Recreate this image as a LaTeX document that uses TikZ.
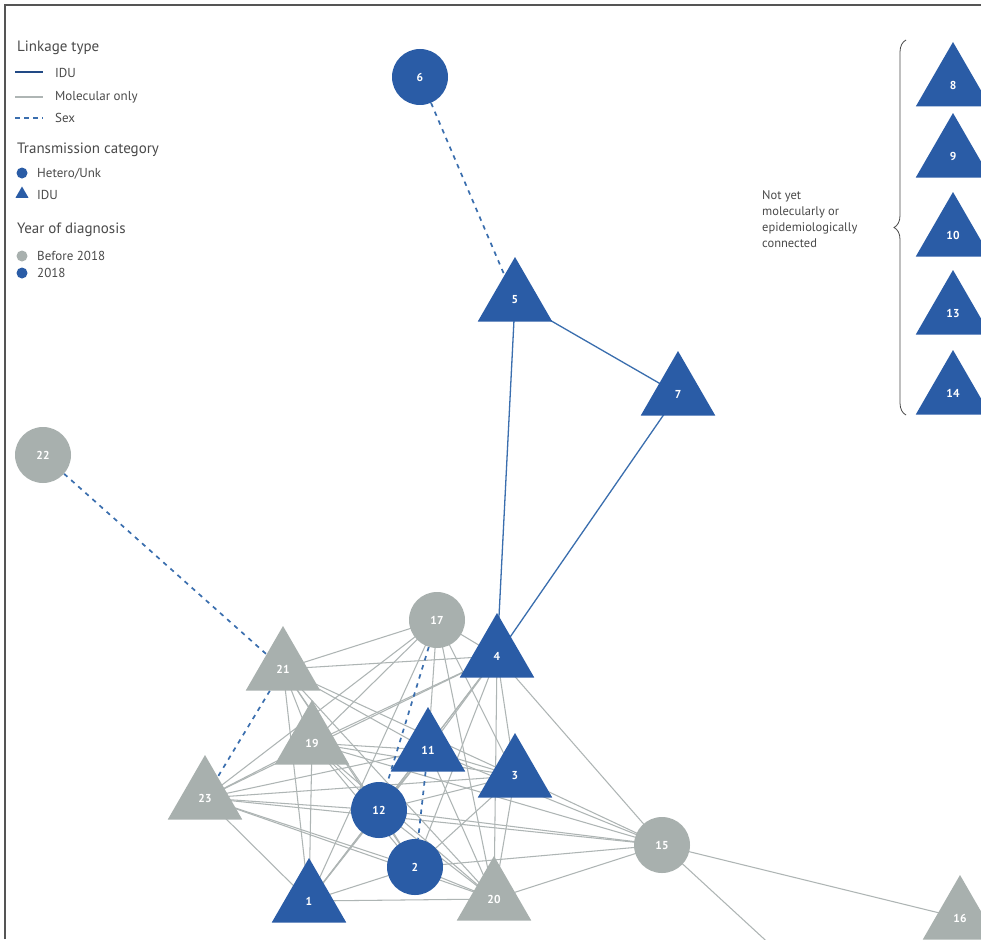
\documentclass[tikz,border=0pt]{standalone}
\usepackage{fontspec}
\setmainfont{PT Sans}
\usetikzlibrary{shapes.geometric,decorations.pathreplacing}
\definecolor{nblue}{HTML}{2A5CA6}
\definecolor{ngray}{HTML}{A8B0AE}
\definecolor{egray}{HTML}{AEB5B4}
\definecolor{eblue}{HTML}{3A6EAE}
\definecolor{txt}{HTML}{4A4A4A}
\definecolor{frame}{HTML}{555555}
\pgfdeclarelayer{bg}\pgfdeclarelayer{paper}\pgfsetlayers{paper,bg,main}
\begin{document}
\begin{tikzpicture}[x=1pt,y=-1pt,
  tri/.style={regular polygon,regular polygon sides=3,minimum size=86pt,inner sep=0pt,text=white,font=\bfseries\fontsize{11.5}{11.5}\selectfont},
  circ/.style={circle,minimum size=56pt,inner sep=0pt,text=white,font=\bfseries\fontsize{11.5}{11.5}\selectfont},
  blu/.style={fill=nblue},
  gry/.style={fill=ngray},
  mol/.style={draw=egray,line width=1.05pt},
  idu/.style={draw=eblue,line width=1.3pt},
  sexl/.style={draw=eblue,line width=1.7pt,dash pattern=on 4.5pt off 5pt},
  hdr/.style={font=\fontsize{15}{15}\selectfont,text=txt,anchor=west,inner sep=0pt},
  itm/.style={font=\fontsize{13}{13}\selectfont,text=txt,anchor=west,inner sep=0pt}]
\useasboundingbox (0,0) rectangle (981,939);
\clip (0,0) rectangle (981,939);
\begin{pgfonlayer}{paper}
\fill[white] (0,0) rectangle (981,939);
\end{pgfonlayer}
\draw[frame,line width=1.6pt] (5,939) -- (5,5) -- (981,5);

% legend
\node[hdr] (lt) at (17,48) {Linkage type};
\coordinate (la1) at (15,72); \coordinate (la2) at (43,72);
\draw[draw=nblue!80!black,line width=1.4pt] (la1) -- (la2);
\node[itm] (li) at (55,73) {IDU};
\coordinate (lb1) at (15,97); \coordinate (lb2) at (43,97);
\draw[mol] (lb1) -- (lb2);
\node[itm] (lm) at (55,97) {Molecular only};
\coordinate (lc1) at (15,118); \coordinate (lc2) at (43,118);
\draw[eblue,line width=1.5pt,dash pattern=on 5pt off 4pt] (lc1) -- (lc2);
\node[itm] (ls) at (55,118) {Sex};
\node[hdr] (tc) at (17,150) {Transmission category};
\node[circle,fill=nblue,minimum size=11pt,inner sep=0pt] (lhc) at (22,173) {};
\node[itm] (lht) at (37,174) {Hetero/Unk};
\node[regular polygon,regular polygon sides=3,fill=nblue,minimum size=15pt,inner sep=0pt] (lit) at (22,194) {};
\node[itm] (lid) at (37,195) {IDU};
\node[hdr] (yd) at (17,230) {Year of diagnosis};
\node[circle,fill=ngray,minimum size=11pt,inner sep=0pt] (lgc) at (22,256) {};
\node[itm] (lgt) at (37,256) {Before 2018};
\node[circle,fill=nblue,minimum size=11pt,inner sep=0pt] (lbc) at (22,273) {};
\node[itm] (lbt) at (37,273) {2018};

% nodes
\node[circ,blu] (n6) at (420,77) {6};
\node[tri,blu] (n5) at (515,300) {5};
\node[tri,blu] (n7) at (678,394) {7};
\node[circ,gry] (n22) at (43,455) {22};
\node[circ,gry] (n17) at (437,620) {17};
\node[tri,blu] (n4) at (497,656) {4};
\node[tri,gry] (n21) at (283,669) {21};
\node[tri,gry] (n19) at (312,743) {19};
\node[tri,blu] (n11) at (428,750) {11};
\node[tri,blu] (n3) at (515,776) {3};
\node[tri,gry] (n23) at (205,798) {23};
\node[circ,blu] (n12) at (379,810) {12};
\node[circ,blu] (n2) at (415,867) {2};
\node[circ,gry] (n15) at (662,845) {15};
\node[tri,blu] (n1) at (309,901) {1};
\node[tri,gry] (n20) at (494,899) {20};
\node[tri,gry] (n16) at (960,918) {16};
\coordinate (out) at (800,972);

\node[tri,blu] (n8) at (953,85) {8};
\node[tri,blu] (n9) at (953,156) {9};
\node[tri,blu] (n10) at (953,235) {10};
\node[tri,blu] (n13) at (953,313) {13};
\node[tri,blu] (n14) at (953,393) {14};

\coordinate (bb) at (906,415); \coordinate (bt) at (906,40);
\draw[txt,line width=0.8pt,decorate,decoration={brace,amplitude=12pt}] (bb) -- (bt);
\node[itm,font=\fontsize{12.5}{16}\selectfont,align=left] (nyc) at (762,219) {Not yet\\molecularly or\\epidemiologically\\connected};

% edges
\begin{pgfonlayer}{bg}
\foreach \a/\b in {21/17,21/4,21/11,21/3,21/12,21/19,21/1,21/2,21/20,
  19/17,19/4,19/11,19/3,19/12,19/2,19/1,19/20,19/23,19/15,
  23/4,23/11,23/12,23/2,23/1,23/20,23/3,23/15,
  17/11,17/1,17/3,17/20,17/4,17/23,
  4/11,4/3,4/20,4/2,4/12,4/1,4/15,
  11/3,11/20,11/12,11/1,11/15,
  3/20,3/12,3/2,3/15,
  12/2,12/20,12/1,12/15,
  2/1,2/20,2/15,
  1/20,20/15,15/16}
  \draw[mol] (n\a.center) -- (n\b.center);
\draw[mol] (n15.center) -- (out);
\draw[idu] (n5.center) -- (n4.center);
\draw[idu] (n5.center) -- (n7.center);
\draw[idu] (n7.center) -- (n4.center);
\draw[sexl] (n6) -- (n5);
\draw[sexl] (n22) -- (n21);
\draw[sexl] (n21) -- (n23);
\draw[sexl] (n17) -- (n12);
\draw[sexl] (n11) -- (n2);
\end{pgfonlayer}
\end{tikzpicture}
\end{document}
